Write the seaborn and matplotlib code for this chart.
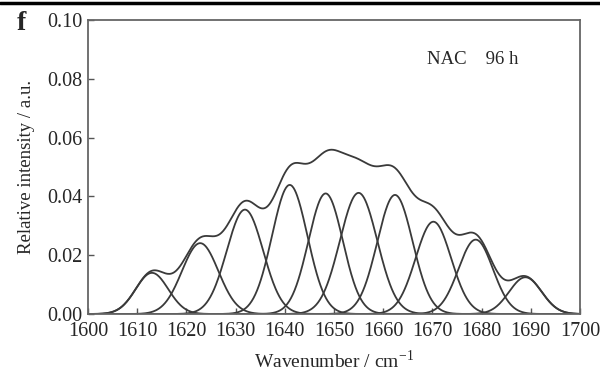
import numpy as np
import pandas as pd
import matplotlib
matplotlib.use("Agg")
import matplotlib.pyplot as plt
import seaborn as sns

# Peak parameters (Gaussian components)
centers = [1613.0, 1622.8, 1631.9, 1641.0, 1648.3, 1655.0, 1662.4, 1670.2, 1678.8, 1688.9]
heights = [0.0140, 0.0241, 0.0355, 0.0439, 0.0410, 0.0412, 0.0405, 0.0314, 0.0253, 0.0125]
sigmas = [3.3, 3.7, 3.7, 3.6, 3.5, 3.8, 3.6, 3.6, 3.5, 3.3]
x_ticks = [1600, 1610, 1620, 1630, 1640, 1650, 1660, 1670, 1680, 1690, 1700]
y_ticks = [0.00, 0.02, 0.04, 0.06, 0.08, 0.10]

sns.set_style("ticks")
plt.rcParams['font.family'] = ['Liberation Serif', 'DejaVu Serif']
plt.rcParams['mathtext.fontset'] = 'stix'

wn = np.linspace(1600, 1700, 801)
rows = []
total = np.zeros_like(wn)
for i, (c, h, s) in enumerate(zip(centers, heights, sigmas)):
    y = h * np.exp(-(wn - c) ** 2 / (2 * s ** 2))
    total += y
    rows.append(pd.DataFrame({"wn": wn, "val": y, "curve": f"p{i}"}))
rows.append(pd.DataFrame({"wn": wn, "val": total, "curve": "sum"}))
df = pd.concat(rows, ignore_index=True)

fig = plt.figure(figsize=(6.0, 3.72), dpi=100)
ax = fig.add_axes([88/600, 1-314/372, (580-88)/600, (314-20)/372])

sns.lineplot(data=df, x="wn", y="val", units="curve", estimator=None,
             color="#3a3a3a", lw=1.3, ax=ax, legend=False)

ax.set_xlim(1600, 1700)
ax.set_ylim(0, 0.10)
ax.set_xticks(x_ticks)
ax.set_xticklabels([str(t) for t in x_ticks])
ax.set_yticks(y_ticks)
ax.set_yticklabels([f"{t:.2f}" for t in y_ticks])
ax.tick_params(direction="in", length=4, width=1, labelsize=14.5, color="#555555")
ax.tick_params(axis="x", pad=6)
ax.tick_params(axis="y", pad=4)
for sp in ax.spines.values():
    sp.set_visible(True)
    sp.set_color("#666666")
    sp.set_linewidth(1.3)

ax.set_xlabel("Wavenumber / cm$^{\\mathregular{-1}}$", fontsize=14, labelpad=6)
ax.set_ylabel("Relative intensity / a.u.", fontsize=13.5, labelpad=9)

ax.text(0.69, 0.865, "NAC    96 h", transform=ax.transAxes, fontsize=13.5, va="center")
fig.text(17/600, 1-23/372, "f", fontsize=20, fontweight="bold", va="center", ha="left")

fig.add_artist(plt.Line2D([0, 1], [1-3/372, 1-3/372], transform=fig.transFigure,
                          color="black", lw=2.5))

fig.savefig("out.png", dpi=100)
